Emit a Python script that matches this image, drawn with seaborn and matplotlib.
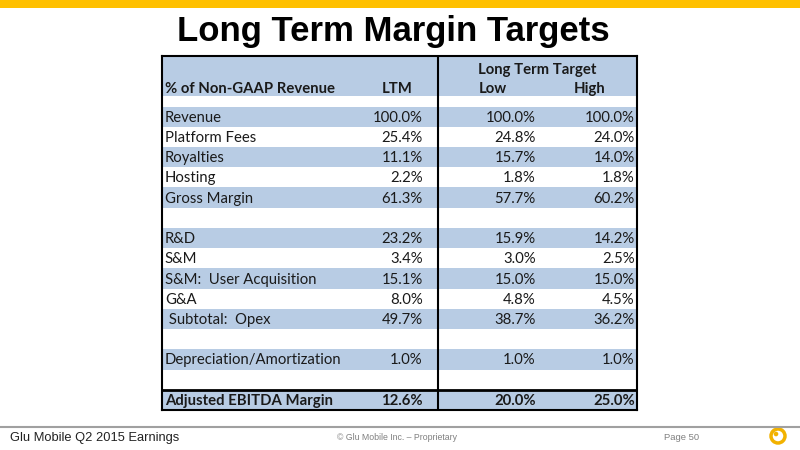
import numpy as np
import pandas as pd
import seaborn as sns
import matplotlib.pyplot as plt
from matplotlib.colors import ListedColormap
from matplotlib.patches import Rectangle, Circle

# Table contents
row_labels = ["Revenue", "Platform Fees", "Royalties", "Hosting", "Gross Margin", "",
              "R&D", "S&M", "S&M:  User Acquisition", "G&A", " Subtotal:  Opex", "",
              "Depreciation/Amortization", "", "Adjusted EBITDA Margin"]
ltm = [100.0, 25.4, 11.1, 2.2, 61.3, None, 23.2, 3.4, 15.1, 8.0, 49.7, None, 1.0, None, 12.6]
low = [100.0, 24.8, 15.7, 1.8, 57.7, None, 15.9, 3.0, 15.0, 4.8, 38.7, None, 1.0, None, 20.0]
high = [100.0, 24.0, 14.0, 1.8, 60.2, None, 14.2, 2.5, 15.0, 4.5, 36.2, None, 1.0, None, 25.0]
col_headers = ["% of Non-GAAP Revenue", "LTM", "Low", "High"]
group_header = "Long Term Target"

df = pd.DataFrame({"label": row_labels, "LTM": ltm, "Low": low, "High": high})

blue = "#B8CCE4"
sns.set_theme(style="white")
plt.rcParams['font.family'] = ['Lato', 'DejaVu Sans']

fig = plt.figure(figsize=(8, 4.5), dpi=100)

# page decoration in pixel coordinates
bg = fig.add_axes([0, 0, 1, 1])
bg.set_xlim(0, 800)
bg.set_ylim(450, 0)
bg.axis('off')
bg.add_patch(Rectangle((0, 0), 800, 8, color="#FFC000", lw=0))
bg.plot([0, 800], [427, 427], color="#A0A0A0", lw=1.5)
bg.text(393, 32, "Long Term Margin Targets", ha='center', va='center', fontsize=25,
        fontweight='bold', family=['Liberation Sans'], color='black')
bg.text(10, 438, "Glu Mobile Q2 2015 Earnings", ha='left', va='center', fontsize=9.3,
        family=['Liberation Sans'], color='#222222')
bg.text(397, 438, "\u00a9 Glu Mobile Inc. \u2013 Proprietary", ha='center', va='center', fontsize=6.3,
        family=['Liberation Sans'], color='#808080')
bg.text(682, 438, "Page 50", ha='center', va='center', fontsize=6.8,
        family=['Liberation Sans'], color='#808080')
bg.add_patch(Circle((778, 436), 7, fill=False, lw=2.5, color="#F2B200"))
bg.add_patch(Circle((776, 434), 1.6, color="#F2B200"))

# table
ax = fig.add_axes([162 / 800, 1 - 410 / 450, 475 / 800, 354 / 450])
stripes = np.array([[1 if i % 2 == 0 else 0] for i in range(len(df))])
sns.heatmap(stripes, ax=ax, cmap=ListedColormap(["white", blue]), cbar=False,
            xticklabels=False, yticklabels=False, vmin=0, vmax=1)
ax.axhspan(-2.5, -0.5, color=blue, lw=0)
ax.set_xlim(0, 1)
ax.set_ylim(len(df), -2.5)
for s in ax.spines.values():
    s.set_visible(True)
    s.set_color('black')
    s.set_linewidth(1.5)
ax.axvline(0.581, color='black', lw=1.5)
ax.axhline(len(df) - 1, color='black', lw=2)

fs = 10.7
txt = '#1a1a1a'
ax.text(0.79, -1.8, group_header, ha='center', va='center', fontsize=fs, fontweight='bold', color=txt)
ax.text(0.006, -0.85, col_headers[0], ha='left', va='center', fontsize=fs, fontweight='bold', color=txt)
ax.text(0.495, -0.85, col_headers[1], ha='center', va='center', fontsize=fs, fontweight='bold', color=txt)
ax.text(0.697, -0.85, col_headers[2], ha='center', va='center', fontsize=fs, fontweight='bold', color=txt)
ax.text(0.901, -0.85, col_headers[3], ha='center', va='center', fontsize=fs, fontweight='bold', color=txt)

col_x = {"LTM": 0.549, "Low": 0.787, "High": 0.995}
for i, row in df.iterrows():
    weight = 'bold' if i == len(df) - 1 else 'normal'
    y = i + 0.55
    if row["label"]:
        ax.text(0.006, y, row["label"], ha='left', va='center', fontsize=fs, fontweight=weight, color=txt)
    for c, x in col_x.items():
        v = row[c]
        if pd.notna(v):
            ax.text(x, y, f"{v:.1f}%", ha='right', va='center', fontsize=fs, fontweight=weight, color=txt)

fig.savefig("out.png", dpi=100)
